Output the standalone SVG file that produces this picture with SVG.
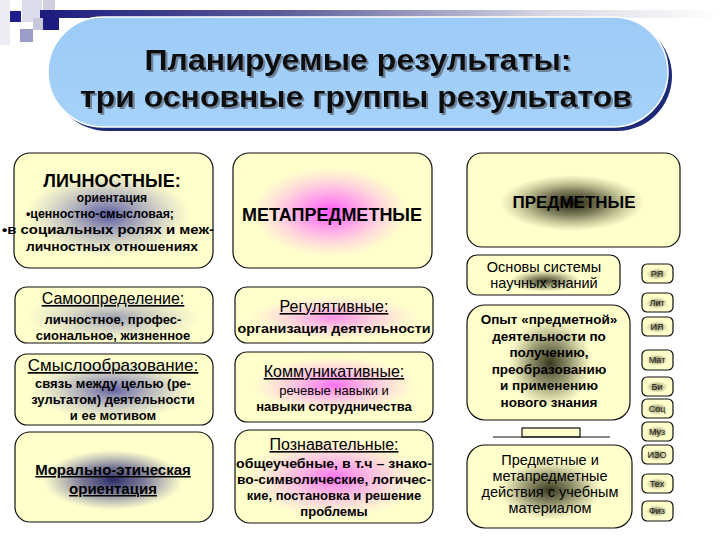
<svg xmlns="http://www.w3.org/2000/svg" width="720" height="540" viewBox="0 0 720 540">
<defs>
<style>
.box{fill:#ffffcc;stroke:#111;stroke-width:1.2}
.t{font-family:"Liberation Sans",Arial,sans-serif;fill:#000;text-anchor:middle}
.b{font-weight:bold}
.u{text-decoration:underline}
.sm{font-size:9px;fill:#1a1a1a}
.title{font-family:"Liberation Sans",Arial,sans-serif;font-weight:bold;font-size:30px;text-anchor:middle;fill:#111}
</style>
<filter id="tshadow" x="-5%" y="-20%" width="110%" height="150%">
<feDropShadow dx="2" dy="2" stdDeviation="0.6" flood-color="#6a7a90" flood-opacity="0.9"/>
</filter>
<linearGradient id="bar" x1="0" y1="0" x2="1" y2="0">
<stop offset="0" stop-color="#1c1c80"/>
<stop offset="0.35" stop-color="#5a5a98"/>
<stop offset="0.75" stop-color="#d8d8e4"/>
<stop offset="1" stop-color="#ffffff"/>
</linearGradient>
<linearGradient id="pill" x1="0" y1="0" x2="0" y2="1">
<stop offset="0" stop-color="#9ccbf6"/>
<stop offset="1" stop-color="#a6d2fa"/>
</linearGradient>
<radialGradient id="gBlue"><stop offset="0" stop-color="#3a3a98" stop-opacity="1"/><stop offset="0.45" stop-color="#6a6ab0" stop-opacity="0.6"/><stop offset="1" stop-color="#8a8ac0" stop-opacity="0"/></radialGradient>
<radialGradient id="gNavy"><stop offset="0" stop-color="#12125a" stop-opacity="1"/><stop offset="0.45" stop-color="#30307a" stop-opacity="0.7"/><stop offset="1" stop-color="#5050a0" stop-opacity="0"/></radialGradient>
<radialGradient id="gMag"><stop offset="0" stop-color="#ff33ff" stop-opacity="1"/><stop offset="0.45" stop-color="#ff66ff" stop-opacity="0.6"/><stop offset="1" stop-color="#ff99ff" stop-opacity="0"/></radialGradient>
<radialGradient id="gDark"><stop offset="0" stop-color="#141400" stop-opacity="1"/><stop offset="0.45" stop-color="#33331a" stop-opacity="0.65"/><stop offset="1" stop-color="#666640" stop-opacity="0"/></radialGradient>
</defs>
<rect width="720" height="540" fill="#ffffff"/>

<g id="decor">
<rect x="0" y="0" width="10" height="45" fill="#ececf2"/>
<rect x="22" y="0" width="20" height="22" fill="#dcdcea"/>
<rect x="43" y="0" width="12" height="10" fill="#cfcfe0"/>
<rect x="40" y="10" width="680" height="8" fill="url(#bar)"/>
<rect x="43" y="18" width="16" height="12" fill="#1c1c80"/>
<rect x="10" y="11" width="11" height="11" fill="#1e1e8c"/>
<rect x="20" y="29" width="13" height="13" fill="#9c9cc8"/>
<rect x="33" y="18" width="10" height="12" fill="#c8c8dc"/>
</g>

<g id="title">
<rect x="52" y="21" width="620" height="110" rx="55" fill="#1c2a78"/>
<rect x="48" y="17" width="620" height="110" rx="55" fill="url(#pill)" stroke="#ffffff" stroke-width="1.5"/>
<g filter="url(#tshadow)">
<text class="title" x="358" y="70" textLength="427" lengthAdjust="spacingAndGlyphs">Планируемые результаты:</text>
<text class="title" x="356" y="107" textLength="552" lengthAdjust="spacingAndGlyphs">три основные группы результатов</text>
</g>
</g>

<g id="lichnostnye">
<rect class="box" x="14" y="153" width="199" height="115" rx="16"/>
<ellipse cx="108" cy="215" rx="82" ry="42" fill="url(#gBlue)" opacity="0.85"/>
<text class="t b" x="112" y="187" font-size="18">ЛИЧНОСТНЫЕ:</text>
<text class="t b" x="112" y="202" font-size="12">ориентация</text>
<text class="t b" x="100" y="218" font-size="12" textLength="148" lengthAdjust="spacingAndGlyphs">•ценностно-смысловая;</text>
<text class="t b" x="108" y="234" font-size="12" textLength="212" lengthAdjust="spacingAndGlyphs">•в социальных ролях и меж-</text>
<text class="t b" x="112" y="251" font-size="12" textLength="172" lengthAdjust="spacingAndGlyphs">личностных отношениях</text>
</g>

<g id="samoopredelenie">
<rect class="box" x="15" y="287" width="198" height="56" rx="12"/>
<ellipse cx="113" cy="318" rx="88" ry="24" fill="url(#gBlue)" opacity="0.5"/>
<text class="t u" x="113" y="304" font-size="16">Самоопределение:</text>
<text class="t b" x="113" y="324" font-size="13">личностное, профес-</text>
<text class="t b" x="113" y="340" font-size="13">сиональное, жизненное</text>
</g>

<g id="smysloobrazovanie">
<rect class="box" x="15" y="354" width="198" height="71" rx="12"/>
<ellipse cx="113" cy="390" rx="82" ry="30" fill="url(#gBlue)" opacity="0.8"/>
<text class="t u" x="113" y="371" font-size="17">Смыслообразование:</text>
<text class="t b" x="113" y="388" font-size="13">связь между целью (ре-</text>
<text class="t b" x="113" y="404" font-size="13">зультатом) деятельности</text>
<text class="t b" x="113" y="420" font-size="13">и ее мотивом</text>
</g>

<g id="moralno">
<rect class="box" x="15" y="432" width="198" height="90" rx="15"/>
<ellipse cx="113" cy="480" rx="70" ry="30" fill="url(#gNavy)" opacity="0.9"/>
<text class="t b u" x="113" y="475" font-size="15">Морально-этическая</text>
<text class="t b u" x="113" y="494" font-size="15">ориентация</text>
</g>

<g id="metapredmetnye">
<rect class="box" x="233" y="153" width="199" height="115" rx="16"/>
<ellipse cx="330" cy="212" rx="78" ry="45" fill="url(#gMag)" opacity="0.85"/>
<text class="t b" x="332" y="221" font-size="18">МЕТАПРЕДМЕТНЫЕ</text>
</g>

<g id="regulyativnye">
<rect class="box" x="235" y="287" width="198" height="56" rx="12"/>
<ellipse cx="334" cy="318" rx="85" ry="22" fill="url(#gMag)" opacity="0.55"/>
<text class="t u" x="334" y="312" font-size="16">Регулятивные:</text>
<text class="t b" x="334" y="333" font-size="13" textLength="193" lengthAdjust="spacingAndGlyphs">организация деятельности</text>
</g>

<g id="kommunikativnye">
<rect class="box" x="235" y="352" width="198" height="70" rx="12"/>
<ellipse cx="334" cy="385" rx="82" ry="28" fill="url(#gMag)" opacity="0.7"/>
<text class="t u" x="334" y="377" font-size="16">Коммуникативные:</text>
<text class="t" x="334" y="395" font-size="13">речевые навыки и</text>
<text class="t b" x="334" y="411" font-size="13">навыки сотрудничества</text>
</g>

<g id="poznavatelnye">
<rect class="box" x="235" y="430" width="198" height="93" rx="15"/>
<ellipse cx="334" cy="478" rx="88" ry="40" fill="url(#gMag)" opacity="0.7"/>
<text class="t u" x="334" y="450" font-size="16">Познавательные:</text>
<text class="t b" x="334" y="468" font-size="13" textLength="196" lengthAdjust="spacingAndGlyphs">общеучебные, в т.ч – знако-</text>
<text class="t b" x="334" y="484" font-size="13" textLength="194" lengthAdjust="spacingAndGlyphs">во-символические, логичес-</text>
<text class="t b" x="334" y="500" font-size="13">кие, постановка и решение</text>
<text class="t b" x="334" y="516" font-size="13">проблемы</text>
</g>

<g id="predmetnye">
<rect class="box" x="467" y="153" width="213" height="94" rx="15"/>
<ellipse cx="572" cy="203" rx="72" ry="28" fill="url(#gDark)" opacity="0.95"/>
<text class="t b" x="574" y="208" font-size="17">ПРЕДМЕТНЫЕ</text>
</g>

<g id="osnovy">
<rect class="box" x="467" y="255" width="153" height="40" rx="10"/>
<ellipse cx="545" cy="281" rx="36" ry="11" fill="url(#gDark)" opacity="0.8"/>
<text class="t" x="544" y="272" font-size="14.5">Основы системы</text>
<text class="t" x="544" y="288" font-size="14.5">научных знаний</text>
</g>

<g id="opyt">
<rect class="box" x="467" y="305" width="163" height="115" rx="18"/>
<ellipse cx="550" cy="363" rx="42" ry="45" fill="url(#gDark)" opacity="0.85"/>
<text class="t b" x="549" y="324" font-size="13.5">Опыт «предметной»</text>
<text class="t b" x="549" y="341" font-size="13.5">деятельности по</text>
<text class="t b" x="549" y="357" font-size="13.5">получению,</text>
<text class="t b" x="549" y="374" font-size="13.5">преобразованию</text>
<text class="t b" x="549" y="390" font-size="13.5">и применению</text>
<text class="t b" x="549" y="407" font-size="13.5">нового знания</text>
</g>

<g id="connectors" stroke="#111" stroke-width="1.2">
<rect x="522" y="428" width="58" height="9" fill="#ffffcc"/>
<line x1="493" y1="437" x2="610" y2="437"/>
</g>

<g id="predmetnye-deistviya">
<rect class="box" x="467" y="445" width="165" height="83" rx="18"/>
<ellipse cx="550" cy="490" rx="52" ry="30" fill="url(#gDark)" opacity="0.85"/>
<text class="t" x="550" y="465" font-size="14.5">Предметные и</text>
<text class="t" x="550" y="481" font-size="14.5">метапредметные</text>
<text class="t" x="550" y="497" font-size="14.5">действия с учебным</text>
<text class="t" x="550" y="513" font-size="14.5">материалом</text>
</g>

<g id="subjects">
<g id="s-ry"><rect class="box" x="642" y="264" width="31" height="19" rx="5"/><ellipse cx="657" cy="274" rx="11" ry="6" fill="url(#gDark)" opacity="0.55"/><text class="t sm" x="657" y="277">РЯ</text></g>
<g id="s-lit"><rect class="box" x="642" y="293" width="31" height="19" rx="5"/><ellipse cx="657" cy="303" rx="11" ry="6" fill="url(#gDark)" opacity="0.55"/><text class="t sm" x="657" y="306">Лит</text></g>
<g id="s-iya"><rect class="box" x="642" y="317" width="31" height="19" rx="5"/><ellipse cx="657" cy="327" rx="11" ry="6" fill="url(#gDark)" opacity="0.55"/><text class="t sm" x="657" y="330">ИЯ</text></g>
<g id="s-mat"><rect class="box" x="642" y="350" width="31" height="20" rx="5"/><ellipse cx="657" cy="360" rx="11" ry="6" fill="url(#gDark)" opacity="0.55"/><text class="t sm" x="657" y="363">Мат</text></g>
<g id="s-bi"><rect class="box" x="642" y="377" width="31" height="19" rx="5"/><ellipse cx="657" cy="387" rx="11" ry="6" fill="url(#gDark)" opacity="0.55"/><text class="t sm" x="657" y="390">Би</text></g>
<g id="s-soc"><rect class="box" x="642" y="399" width="31" height="19" rx="5"/><ellipse cx="657" cy="409" rx="11" ry="6" fill="url(#gDark)" opacity="0.55"/><text class="t sm" x="657" y="412">Соц</text></g>
<g id="s-muz"><rect class="box" x="642" y="422" width="31" height="19" rx="5"/><ellipse cx="657" cy="432" rx="11" ry="6" fill="url(#gDark)" opacity="0.55"/><text class="t sm" x="657" y="435">Муз</text></g>
<g id="s-izo"><rect class="box" x="642" y="445" width="31" height="19" rx="5"/><ellipse cx="657" cy="455" rx="11" ry="6" fill="url(#gDark)" opacity="0.55"/><text class="t sm" x="657" y="458">ИЗО</text></g>
<g id="s-teh"><rect class="box" x="642" y="474" width="31" height="19" rx="5"/><ellipse cx="657" cy="484" rx="11" ry="6" fill="url(#gDark)" opacity="0.55"/><text class="t sm" x="657" y="487">Тех</text></g>
<g id="s-fiz"><rect class="box" x="642" y="501" width="31" height="20" rx="5"/><ellipse cx="657" cy="511" rx="11" ry="6" fill="url(#gDark)" opacity="0.55"/><text class="t sm" x="657" y="514">Физ</text></g>
</g>
</svg>
